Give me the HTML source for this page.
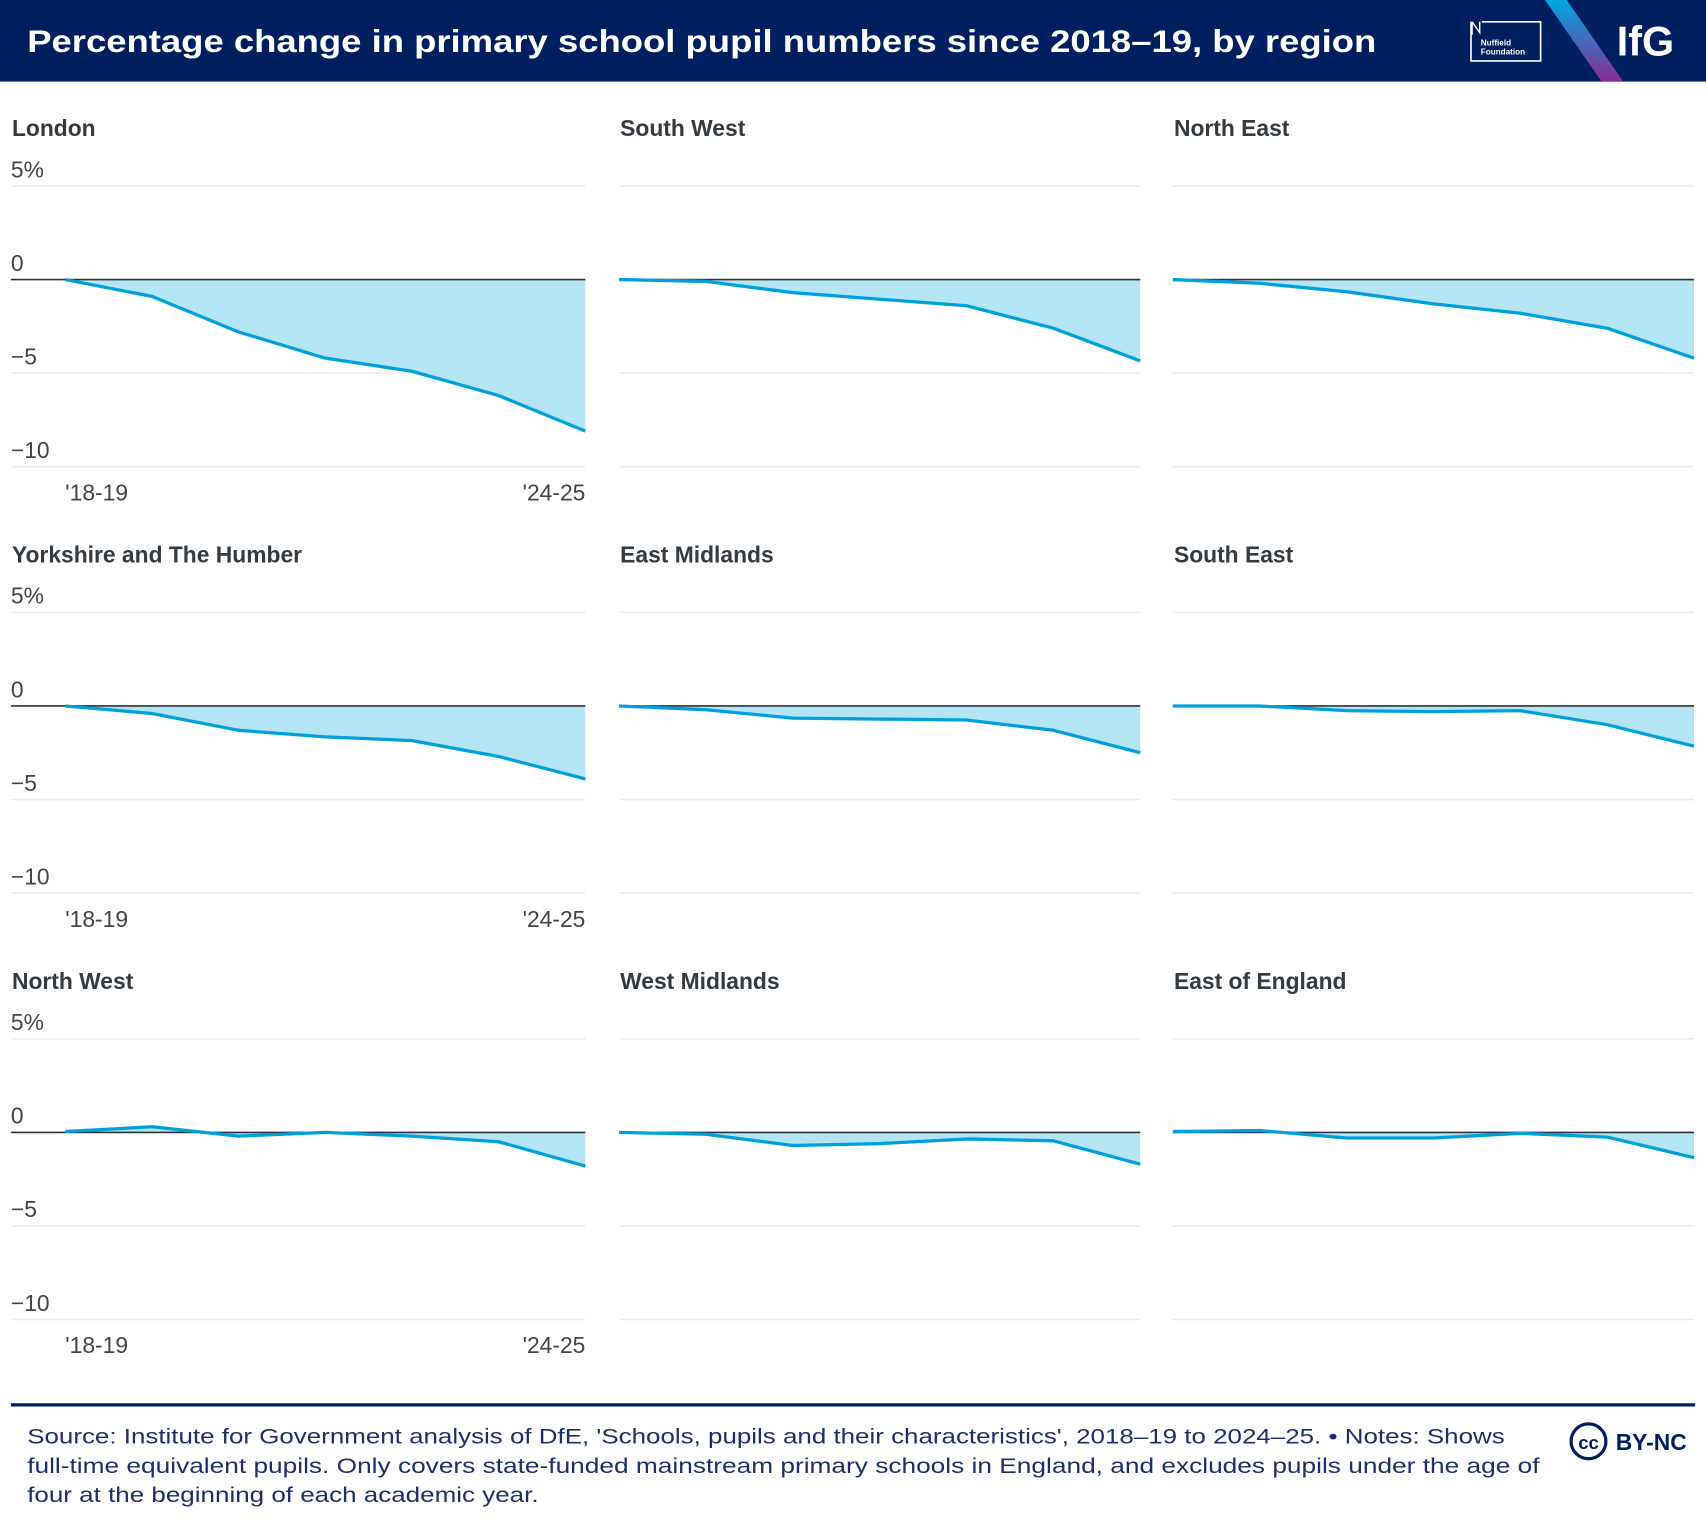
<!DOCTYPE html>
<html><head><meta charset="utf-8"><style>
html,body{margin:0;padding:0;background:#fff;width:1706px;height:1524px;overflow:hidden}
svg{display:block;font-family:"Liberation Sans",sans-serif}
</style></head><body>
<svg id="chart" width="1706" height="1524" viewBox="0 0 1568 1401" preserveAspectRatio="none">
<defs><linearGradient id="g" x1="0" y1="0" x2="0" y2="1"><stop offset="0" stop-color="#00a7e1"/><stop offset="1" stop-color="#8a2a96"/></linearGradient></defs>
<rect x="0" y="0" width="1568" height="75" fill="#001f60"/>
<text x="25" y="48" fill="#fff" font-size="29" font-weight="bold" textLength="1240" lengthAdjust="spacingAndGlyphs">Percentage change in primary school pupil numbers since 2018–19, by region</text>
<g>
<path d="M1352 20 L1352 56 L1416 56 L1416 20 L1362 20" fill="none" stroke="#fff" stroke-width="1.5"/>
<path d="M1353 20 L1353 32 M1353 20 L1360 30 L1360 20" fill="none" stroke="#fff" stroke-width="1.3"/>
<text x="1361" y="42" fill="#fff" font-size="7.5" font-weight="bold">Nuffield</text>
<text x="1361" y="50" fill="#fff" font-size="7.5" font-weight="bold">Foundation</text>
</g>
<polygon points="1420,0 1440,0 1492,75 1472,75" fill="url(#g)"/>
<text x="1486" y="51" fill="#fff" font-size="38" font-weight="bold">IfG</text>
<g id="panels"></g>
<rect x="10" y="1290" width="1548" height="3" fill="#001f60"/>
<g fill="#1d2f6b" font-size="19.5">
<text x="25" y="1327" textLength="1358" lengthAdjust="spacingAndGlyphs">Source: Institute for Government analysis of DfE, 'Schools, pupils and their characteristics', 2018–19 to 2024–25. • Notes: Shows</text>
<text x="25" y="1354" textLength="1390" lengthAdjust="spacingAndGlyphs">full-time equivalent pupils. Only covers state-funded mainstream primary schools in England, and excludes pupils under the age of</text>
<text x="25" y="1381" textLength="470" lengthAdjust="spacingAndGlyphs">four at the beginning of each academic year.</text>
</g>
<g>
<circle cx="1460" cy="1325" r="16" fill="none" stroke="#001f60" stroke-width="3"/>
<text x="1460" y="1332" text-anchor="middle" fill="#001f60" font-size="17" font-weight="bold">cc</text>
<text x="1485" y="1333" fill="#001f60" font-size="21" font-weight="bold">BY-NC</text>
</g>
</svg>
<script>
const regions = ["London","South West","North East","Yorkshire and The Humber","East Midlands","South East","North West","West Midlands","East of England"];
const years = ["'18-19","'19-20","'20-21","'21-22","'22-23","'23-24","'24-25"];
const yTicks = [5,0,-5,-10];
const yTickLabels = ["5%","0","\u22125","\u221210"];
const vLondon = [0,-0.9,-2.8,-4.2,-4.9,-6.2,-8.1];
const vSouthWest = [0,-0.1,-0.7,-1.05,-1.4,-2.6,-4.35];
const vNorthEast = [0,-0.2,-0.65,-1.3,-1.8,-2.6,-4.2];
const vYorkshire = [0,-0.4,-1.3,-1.65,-1.85,-2.7,-3.9];
const vEastMidlands = [0,-0.2,-0.65,-0.7,-0.75,-1.3,-2.5];
const vSouthEast = [0,0,-0.25,-0.3,-0.25,-1.0,-2.15];
const vNorthWest = [0.05,0.3,-0.2,0,-0.2,-0.5,-1.8];
const vWestMidlands = [0,-0.1,-0.7,-0.6,-0.35,-0.45,-1.7];
const vEastEngland = [0.05,0.1,-0.3,-0.3,-0.05,-0.25,-1.35];
const series = [vLondon,vSouthWest,vNorthEast,vYorkshire,vEastMidlands,vSouthEast,vNorthWest,vWestMidlands,vEastEngland];

const NS="http://www.w3.org/2000/svg";
const root=document.getElementById('panels');
const colX=[[10,60,538],[569,569,1048],[1078,1078,1557]];
function mk(tag,attrs,parent){const e=document.createElementNS(NS,tag);for(const k in attrs)e.setAttribute(k,attrs[k]);parent.appendChild(e);return e;}
series.forEach((vals,i)=>{
  const col=i%3,row=Math.floor(i/3);
  const [gx0,px0,px1]=colX[col];
  const zeroY=257+row*392;
  const yS=v=>zeroY-v*17.2;
  const xS=j=>px0+(px1-px0)*j/(years.length-1);
  const g=mk('g',{},root);
  
  
  const t=mk('text',{x:gx0+1,y:zeroY-132,fill:'#333a40','font-size':21,'font-weight':'bold'},g);
  t.textContent=regions[i];
  
  
  yTicks.forEach((v,k)=>{
    if(v===0)return;
    const l=mk('line',{x1:gx0,x2:px1,y1:yS(v),y2:yS(v),stroke:'#ebebeb','stroke-width':1.5},g);
    
    
  });
  if(col===0){
    yTicks.forEach((v,k)=>{
      const tl=mk('text',{x:10,y:yS(v)-8,fill:'#444','font-size':21},g);
      tl.textContent=yTickLabels[k];
      
      
    });
    const a=mk('text',{x:xS(0),y:zeroY+203,fill:'#444','font-size':21},g);
    a.textContent=years[0];
    
    
    const b=mk('text',{x:xS(years.length-1),y:zeroY+203,fill:'#444','font-size':21,'text-anchor':'end'},g);
    b.textContent=years[years.length-1];
    
    
  }
  let d='M'+xS(0)+' '+zeroY;
  vals.forEach((v,j)=>{d+=' L'+xS(j)+' '+yS(v);});
  d+=' L'+xS(vals.length-1)+' '+zeroY+' Z';
  const area=mk('path',{d:d,fill:'#b3e5f5'},g);
  
  
  const z=mk('line',{x1:gx0,x2:px1,y1:zeroY,y2:zeroY,stroke:'#2d3338','stroke-width':1.5},g);
  
  
  const pts=vals.map((v,j)=>xS(j)+','+yS(v)).join(' ');
  const pl=mk('polyline',{points:pts,fill:'none',stroke:'#00a0dc','stroke-width':3,'stroke-linejoin':'round'},g);
  
  
});
</script>
</body></html>
